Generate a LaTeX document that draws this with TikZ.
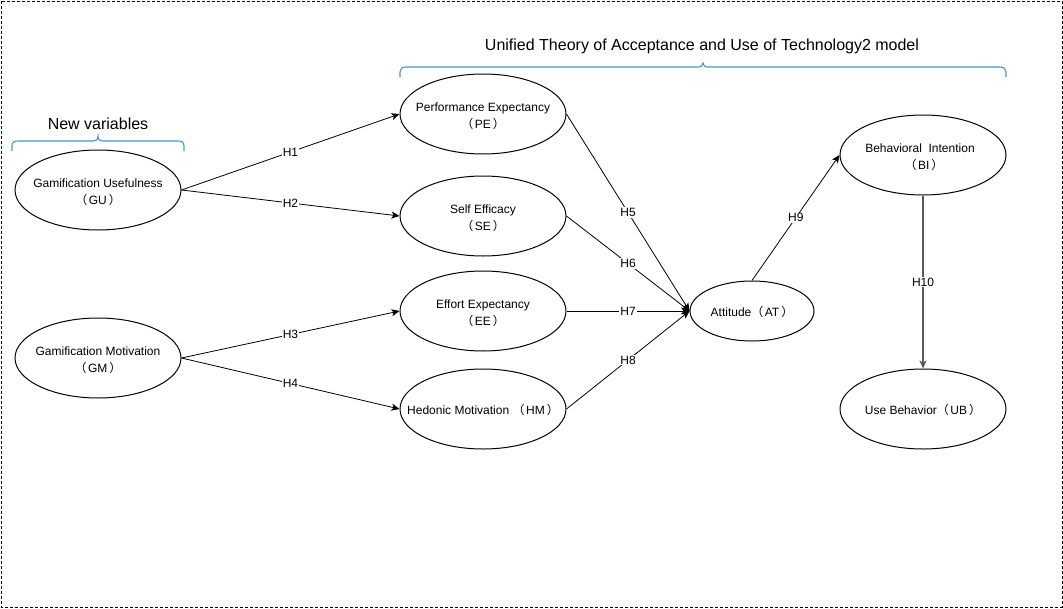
\documentclass[tikz,border=0pt]{standalone}
\usepackage{fontspec}
\setmainfont{Liberation Sans}
\newfontfamily\cjk{Noto Sans CJK SC}
\usetikzlibrary{shapes.geometric,arrows.meta}
\newcommand\lpar{{\cjk （}\hspace{1.5pt}}
\newcommand\rpar{\hspace{2pt}{\cjk ）}}
\definecolor{braceblue}{RGB}{70,150,205}
\begin{document}
\begin{tikzpicture}[x=1pt,y=-1pt,
  var/.style={ellipse,draw,line width=1pt,minimum width=166pt,minimum height=80pt,inner sep=0pt},
  vtext/.style={inner sep=0pt,align=center,font=\fontsize{12}{17.5}\selectfont},
  arr/.style={line width=0.8pt,-{Stealth[length=8pt,width=7pt,inset=2pt]}},
  hlab/.style={fill=white,inner sep=1pt,font=\fontsize{12}{14}\selectfont},
  bracestyle/.style={draw=braceblue,line width=1.1pt},
  title/.style={font=\fontsize{16}{18}\selectfont}]
\useasboundingbox (0,0) rectangle (1063,608);
\draw[dash pattern=on 3pt off 2pt,line width=0.8pt] (1,1) rectangle (1062,607);
% braces
\draw[bracestyle] (12,151) -- (12,146) .. controls (12,142) and (14,141) .. (18,141) -- (93,141) .. controls (96,141) and (98,140) .. (98,136) .. controls (98,140) and (100,141) .. (103,141) -- (178,141) .. controls (182,141) and (184,142) .. (184,146) -- (184,151);
\draw[bracestyle] (400,77) -- (400,72) .. controls (400,69) and (402,67) .. (406,67) -- (698,67) .. controls (701,67) and (703,66) .. (703,63) .. controls (703,66) and (705,67) .. (708,67) -- (1000,67) .. controls (1004,67) and (1006,69) .. (1006,72) -- (1006,77);
\node[title] (tnew) at (98,124) {New variables};
\node[title] (tutaut) at (702,46) {Unified Theory of Acceptance and Use of Technology2 model};
% nodes
\node[var] (GU) at (98,190) {};
\node[vtext] (GUt) at (98,192) {Gamification Usefulness\\\lpar GU\rpar};
\node[var] (GM) at (98,358) {};
\node[vtext] (GMt) at (98,360) {Gamification Motivation\\\lpar GM\rpar};
\node[var] (PE) at (483,114) {};
\node[vtext] (PEt) at (483,116) {Performance Expectancy\\\lpar PE\rpar};
\node[var] (SE) at (483,216) {};
\node[vtext] (SEt) at (483,218) {Self Efficacy\\\lpar SE\rpar};
\node[var] (EE) at (483,311) {};
\node[vtext] (EEt) at (483,313) {Effort Expectancy\\\lpar EE\rpar};
\node[var] (HM) at (483,409) {};
\node[vtext] (HMt) at (483,410) {Hedonic Motivation \lpar HM\rpar};
\node[var,minimum width=124pt,minimum height=60pt] (AT) at (752,311) {};
\node[vtext] (ATt) at (752,312) {Attitude\lpar AT\rpar};
\node[var] (BI) at (923,155) {};
\node[vtext] (BIt) at (920,157) {Behavioral~ Intention\\\hspace{8pt}\lpar BI\rpar};
\node[var] (UB) at (923,409) {};
\node[vtext] (UBt) at (923,410) {Use Behavior\lpar UB\rpar};
% connectors
\draw[arr] (GU.east) -- node[hlab]{H1} (PE.west);
\draw[arr] (GU.east) -- node[hlab]{H2} (SE.west);
\draw[arr] (GM.east) -- node[hlab]{H3} (EE.west);
\draw[arr] (GM.east) -- node[hlab]{H4} (HM.west);
\draw[arr] (PE.east) -- node[hlab]{H5} (AT.west);
\draw[arr] (SE.east) -- node[hlab]{H6} (AT.west);
\draw[arr] (EE.east) -- node[hlab]{H7} (AT.west);
\draw[arr] (HM.east) -- node[hlab]{H8} (AT.west);
\draw[arr] (AT.north) -- node[hlab]{H9} (BI.west);
\draw[arr,draw=black!65,line width=1.2pt] (BI.south) -- node[hlab]{H10} (UB.north);
\end{tikzpicture}
\end{document}
